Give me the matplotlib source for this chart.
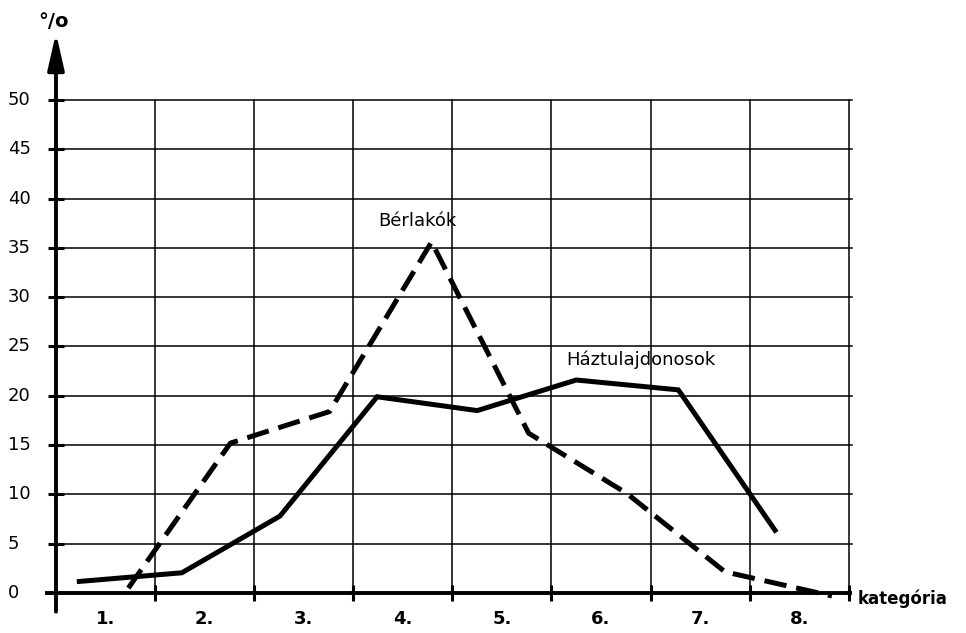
import matplotlib
matplotlib.use("Agg")
import matplotlib.pyplot as plt
from matplotlib import font_manager

# ---- data ----
categories = ["1.", "2.", "3.", "4.", "5.", "6.", "7.", "8."]
y_ticks = [0, 5, 10, 15, 20, 25, 30, 35, 40, 45, 50]

# Háztulajdonosok (solid)
haz_x = [0.21, 1.27, 2.26, 3.24, 4.25, 5.25, 6.28, 7.27]
haz_y = [1.15, 2.05, 7.8, 19.9, 18.5, 21.6, 20.6, 6.15]

# Bérlakók (dashed)
ber_x = [0.73, 1.76, 2.76, 3.79, 4.77, 5.76, 6.75, 7.83]
ber_y = [0.5, 15.2, 18.4, 35.6, 16.2, 10.1, 2.15, -0.3]

installed = {f.name for f in font_manager.fontManager.ttflist}
fams = [f for f in ['DejaVu Sans Condensed', 'Liberation Sans Narrow'] if f in installed]
plt.rcParams['font.family'] = fams + ['DejaVu Sans']
narrow = bool(fams)

fig = plt.figure(figsize=(9.66, 6.33), dpi=100)
ax = fig.add_axes([0, 0, 1, 1])
ax.set_xlim(-0.565, 9.183)
ax.set_ylim(-4.057, 60.14)
ax.axis('off')

n = len(categories)
ymax = y_ticks[-1]

# grid
for yv in y_ticks[1:]:
    ax.plot([0, n + 0.03], [yv, yv], color='black', lw=1.1, zorder=1)
for i in range(1, n + 1):
    ax.plot([i, i], [0, ymax], color='black', lw=1.1, zorder=1)

# axes
ax.plot([-0.11, n + 0.03], [0, 0], color='black', lw=2.8, zorder=3, solid_capstyle='butt')
ax.annotate('', xy=(0, 56.8), xytext=(0, -1.9),
            arrowprops=dict(arrowstyle='-|>,head_length=1.1,head_width=0.25',
                            lw=2.8, color='black', shrinkA=0, shrinkB=0,
                            mutation_scale=20), zorder=3)

# tick crosses
ax.plot(range(1, n + 1), [0] * n, linestyle='none', marker='|', ms=12, mew=2.2,
        color='black', zorder=3)
ax.plot([0] * (len(y_ticks) - 1), y_ticks[1:], linestyle='none', marker='_', ms=12,
        mew=2.2, color='black', zorder=3)

# labels
for yv in y_ticks:
    ax.text(-0.484, yv, str(yv), ha='left', va='center', fontsize=13)
for i, c in enumerate(categories):
    ax.text(i + 0.5, -2.65, c, ha='center', va='center', fontsize=13, fontweight='bold')
ax.text(n + 0.09, -0.55, 'kategória', ha='left', va='center',
        fontsize=14 if narrow else 12, fontweight='bold')
ax.text(-0.03, 58.0, '°/o', ha='center', va='center', fontsize=14, fontweight='bold')

# series
ax.plot(haz_x, haz_y, color='black', lw=3.6, zorder=4, solid_joinstyle='miter',
        solid_capstyle='butt')
ax.plot(ber_x, ber_y, color='black', lw=3.6, zorder=4, linestyle=(0, (4.5, 2)),
        dash_capstyle='butt')

ax.text(3.65, 37.7, 'Bérlakók', ha='center', va='center', fontsize=13)
ax.text(5.9, 23.7, 'Háztulajdonosok', ha='center', va='center', fontsize=13)

fig.savefig('out.png', dpi=100)
